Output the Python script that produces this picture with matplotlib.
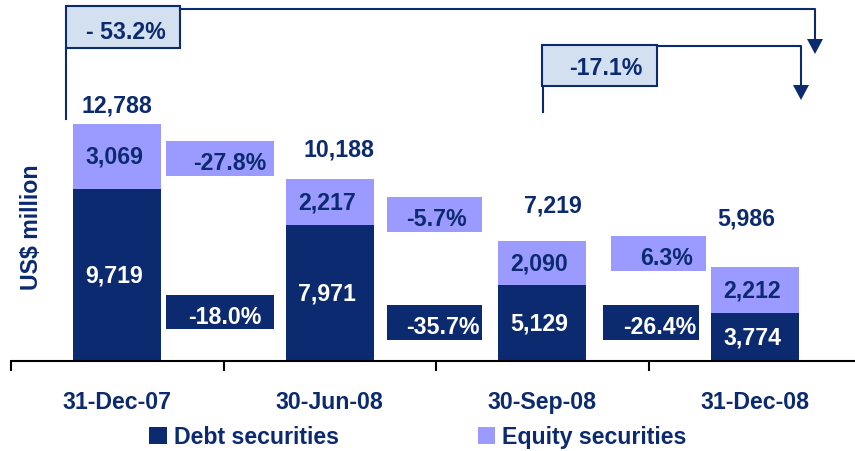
import matplotlib
matplotlib.use("Agg")
import matplotlib.pyplot as plt
import matplotlib.transforms as mtransforms
from matplotlib.patches import Rectangle, Polygon, Patch
from matplotlib.lines import Line2D

# data
dates = ["31-Dec-07", "30-Jun-08", "30-Sep-08", "31-Dec-08"]
debt = [9719, 7971, 5129, 3774]
equity = [3069, 2217, 2090, 2212]
debt_chg = ["-18.0%", "-35.7%", "-26.4%"]
equity_chg = ["-27.8%", "-5.7%", "6.3%"]
total_chg = ["- 53.2%", "-17.1%"]
legend_labels = ["Debt securities", "Equity securities"]

NAVY = "#0B2A6F"
LILAC = "#9B9BFF"
PALE = "#D3E0F0"
FS = 16.7
W, H = 855, 452

plt.rcParams["font.family"] = ["Liberation Sans", "DejaVu Sans"]
plt.rcParams["font.weight"] = "bold"

fig = plt.figure(figsize=(W / 100, H / 100), dpi=100)
ax = fig.add_axes([11 / W, (H - 362) / H, 850 / W, 362 / H])

x = list(range(len(dates)))
totals = [d + e for d, e in zip(debt, equity)]
ax.bar(x, debt, 0.415, color=NAVY, linewidth=0)
ax.bar(x, equity, 0.415, bottom=debt, color=LILAC, linewidth=0)
ybot = 1490
ax.set_xlim(-0.5, 3.5)
ax.set_ylim(ybot, 18760)

# segment labels
for i in x:
    ax.annotate(f"{debt[i]:,}", (i, (ybot + debt[i]) / 2), xytext=(-2, 0),
                textcoords="offset points", ha="center", va="center",
                color="white", fontsize=FS, fontweight="bold")
    ax.annotate(f"{equity[i]:,}", (i, debt[i] + equity[i] / 2), xytext=(-2, 0),
                textcoords="offset points", ha="center", va="center",
                color=NAVY, fontsize=FS, fontweight="bold")

# total labels (offsets in px)
lift = [(0, 8), (9, 18), (11, 24), (-9, 37)]
for i in x:
    dx, dy = lift[i]
    ax.annotate(f"{totals[i]:,}", (i, totals[i]), xytext=(dx * 0.72, dy * 0.72),
                textcoords="offset points", ha="center", va="bottom",
                color=NAVY, fontsize=FS, fontweight="bold")

for s in ["top", "right", "left"]:
    ax.spines[s].set_visible(False)
ax.spines["bottom"].set_linewidth(1.5)
ax.spines["bottom"].set_color("black")
ax.set_yticks([])
ax.set_xticks(x)
ax.set_xticklabels(dates, color=NAVY, fontsize=FS, fontweight="bold")
ax.set_xticks([-0.5, 0.5, 1.5, 2.5], minor=True)
ax.tick_params(axis="x", which="major", length=0, pad=21)
ax.tick_params(axis="x", which="minor", length=7, width=1.5, direction="out", color="black")

fig.text(31 / W, (H - 227) / H, "US$ million", rotation=90, ha="center", va="center",
         color=NAVY, fontsize=FS, fontweight="bold")

# annotation layer in pixel coords (top-left origin)
px = mtransforms.Affine2D().scale(1 / W, -1 / H).translate(0, 1) + fig.transFigure


def box(x0, y0, x1, y1, fc, ec="none", lw=0):
    fig.add_artist(Rectangle((x0, y0), x1 - x0, y1 - y0, transform=px,
                             facecolor=fc, edgecolor=ec, linewidth=lw))


def line(xs, ys):
    fig.add_artist(Line2D(xs, ys, transform=px, color=NAVY, linewidth=1.5))


def arrow(xc, ytop, ytip):
    fig.add_artist(Polygon([(xc - 8, ytop), (xc + 8, ytop), (xc, ytip)], closed=True,
                           transform=px, facecolor=NAVY, edgecolor="none"))


def label(xc, yc, s, color):
    fig.text(xc, yc + 9, s, transform=px, ha="center", va="baseline",
             color=color, fontsize=FS, fontweight="bold")


# change boxes between bars
eq_boxes = [(166, 142, 274, 177, 230), (387, 198, 482, 233, 436), (611, 237, 706, 272, 667)]
dt_boxes = [(166, 296, 274, 330, 225), (387, 306, 482, 341, 443), (603, 306, 699, 341, 660)]
for (x0, y0, x1, y1, tx), s in zip(eq_boxes, equity_chg):
    box(x0, y0, x1, y1, LILAC)
    label(tx, (y0 + y1) / 2 + 2, s, NAVY)
for (x0, y0, x1, y1, tx), s in zip(dt_boxes, debt_chg):
    box(x0, y0, x1, y1, NAVY)
    label(tx, (y0 + y1) / 2 + 2, s, "white")

# overall change brackets
line([66, 66], [49, 120])
line([180, 815, 815], [10, 10, 42])
arrow(815, 40, 55)
box(66, 7, 180, 49, PALE, NAVY, 1.5)
label(126, 30, total_chg[0], NAVY)

line([543, 543], [87, 113])
line([657, 801, 801], [47, 47, 88])
arrow(801, 86, 101)
box(542, 46, 657, 87, PALE, NAVY, 1.5)
label(606, 66, total_chg[1], NAVY)

handles = [Patch(facecolor=NAVY), Patch(facecolor=LILAC)]
ax.legend(handles, legend_labels, loc="center", bbox_to_anchor=(418 / W, 14 / H),
          bbox_transform=fig.transFigure, ncol=2, frameon=False, handlelength=0.75,
          handleheight=0.75, handletextpad=0.3, columnspacing=6.0,
          prop={"size": FS, "weight": "bold"}, labelcolor=NAVY)

fig.savefig("out.png", dpi=100)
